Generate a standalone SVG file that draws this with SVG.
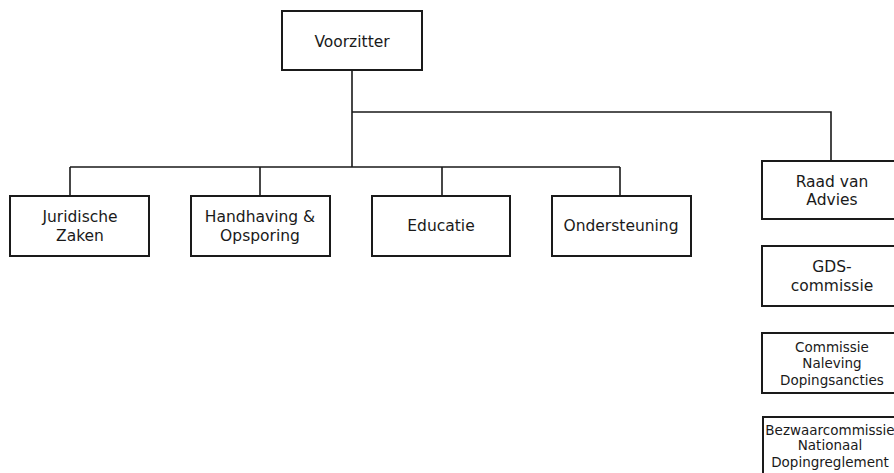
<svg xmlns="http://www.w3.org/2000/svg" width="894" height="473" viewBox="0 0 894 473">
<style>
.box{fill:#fff;stroke:#1a1a1a;stroke-width:2}
.ln{fill:none;stroke:#1a1a1a;stroke-width:1.6}
text{font-family:"DejaVu Sans",Verdana,sans-serif;fill:#1a1a1a;text-anchor:middle}
.t{font-size:15.5px}
.s{font-size:13.5px}
</style>
<rect width="894" height="473" fill="#fff"/>
<g id="connectors">
<path class="ln" d="M352 70 V167 M70 167 H620 M70 167 V196 M260 167 V196 M442 167 V196 M620 167 V196 M352 112 H831 V161"/>
</g>
<g id="voorzitter"><rect class="box" x="282" y="11" width="140" height="59"/><text class="t" x="352" y="47">Voorzitter</text></g>
<g id="juridische"><rect class="box" x="10" y="196" width="139" height="60"/><text class="t" x="80" y="222">Juridische</text><text class="t" x="80" y="241">Zaken</text></g>
<g id="handhaving"><rect class="box" x="191" y="196" width="139" height="60"/><text class="t" x="260" y="222">Handhaving &amp;</text><text class="t" x="260" y="241">Opsporing</text></g>
<g id="educatie"><rect class="box" x="372" y="196" width="138" height="60"/><text class="t" x="441" y="231">Educatie</text></g>
<g id="ondersteuning"><rect class="box" x="552" y="196" width="139" height="60"/><text class="t" x="621" y="231">Ondersteuning</text></g>
<g id="raad"><rect class="box" x="762" y="161" width="140" height="58"/><text class="t" x="832" y="187">Raad van</text><text class="t" x="832" y="205">Advies</text></g>
<g id="gds"><rect class="box" x="762" y="246" width="140" height="60"/><text class="t" x="832" y="272">GDS-</text><text class="t" x="832" y="291">commissie</text></g>
<g id="cnd"><rect class="box" x="762" y="333" width="140" height="60"/><text class="s" x="832" y="352">Commissie</text><text class="s" x="832" y="368">Naleving</text><text class="s" x="832" y="385">Dopingsancties</text></g>
<g id="bezwaar"><rect class="box" x="763" y="417" width="140" height="70"/><text class="s" x="830" y="435">Bezwaarcommissie</text><text class="s" x="830" y="450">Nationaal</text><text class="s" x="830" y="467">Dopingreglement</text></g>
</svg>
